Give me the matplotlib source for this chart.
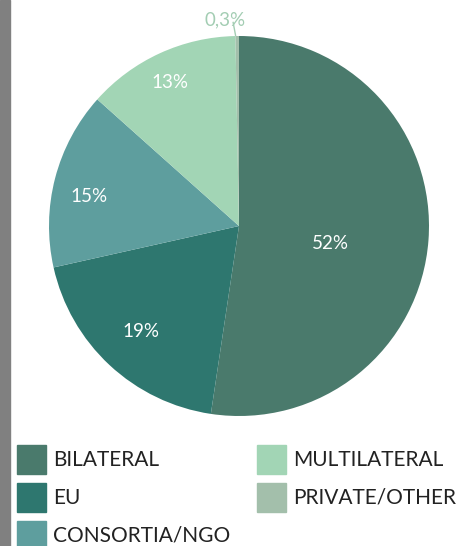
import matplotlib
matplotlib.use("Agg")
import matplotlib.pyplot as plt
from matplotlib.patches import Rectangle
import numpy as np

categories = ["BILATERAL", "EU", "CONSORTIA/NGO", "MULTILATERAL", "PRIVATE/OTHER"]
values = [52, 19, 15, 13, 0.3]
labels = ["52%", "19%", "15%", "13%", "0,3%"]
colors = ["#4a7a6c", "#2e776f", "#5e9e9e", "#a2d5b5", "#a3bfab"]

W, H = 461, 546
fig = plt.figure(figsize=(W / 100, H / 100), dpi=100)
plt.rcParams['font.family'] = ['Lato', 'DejaVu Sans']

# gray bar on left edge
fig.patches.append(Rectangle((0, 0), 10 / W, 1, transform=fig.transFigure,
                             color="#808080", zorder=0))

cx, cy, r = 239, 226, 190
ax = fig.add_axes([(cx - r) / W, 1 - (cy + r) / H, 2 * r / W, 2 * r / H])
wedges, _ = ax.pie(values, colors=colors, startangle=90, counterclock=False,
                   radius=1, wedgeprops=dict(linewidth=0))
ax.set_xlim(-1, 1)
ax.set_ylim(-1, 1)
ax.set_aspect("equal")
ax.axis("off")

dists = [0.49, 0.756, 0.805, 0.84]
offs = [-6.3, 0, 3.3, 1]
for w, lab, d, o in zip(wedges[:4], labels[:4], dists, offs):
    ang = np.deg2rad((w.theta1 + w.theta2) / 2 + o)
    ax.text(d * np.cos(ang), d * np.sin(ang), lab, ha="center", va="center",
            color="white", fontsize=13.5)

# small slice label with leader line
w = wedges[4]
ang = np.deg2rad((w.theta1 + w.theta2) / 2)
x0, y0 = np.cos(ang), np.sin(ang)
ax.plot([x0 - 0.008, x0 - 0.022], [y0, y0 + 0.075], color="#a3cdb3", lw=1,
        clip_on=False, solid_capstyle="butt")
ax.text(x0 - 0.062, y0 + 0.085, labels[4], ha="center", va="center",
        color="#a3cdb3", fontsize=13.5)

# legend
sq = 29
col_x = [17, 257]
row_y = [445, 483, 521]
for i, (cat, c) in enumerate(zip(categories, colors)):
    col, row = (0, i) if i < 3 else (1, i - 3)
    x, y = col_x[col], row_y[row]
    fig.patches.append(Rectangle((x / W, 1 - (y + sq) / H), sq / W, sq / H,
                                 transform=fig.transFigure, color=c))
    fig.text((x + sq + 7) / W, 1 - (y + sq / 2) / H, cat, ha="left",
             va="center", fontsize=15, color="#222222")

fig.savefig("out.png", dpi=100)
